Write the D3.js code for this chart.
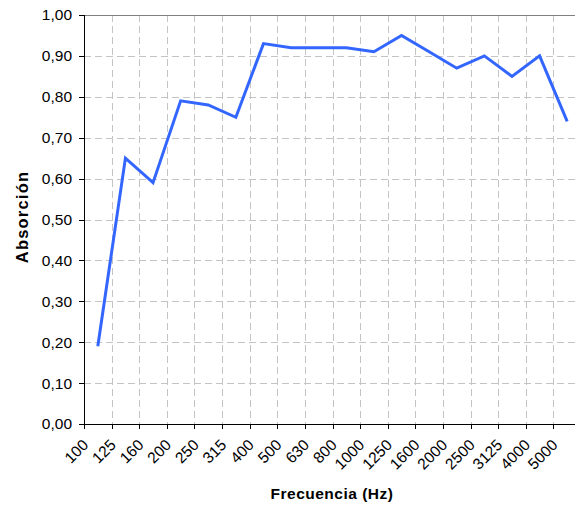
<!DOCTYPE html>
<html>
<head>
<meta charset="utf-8">
<script src="https://cdn.jsdelivr.net/npm/d3@7"></script>
<style>
  body { margin: 0; background: #fff; overflow: hidden; }
  text { font-family: "Liberation Sans", Arial, sans-serif; fill: #000; }
</style>
</head>
<body>
<div id="chart"></div>
<script>
'use strict'

// data
const frequencies = ['100', '125', '160', '200', '250', '315', '400', '500', '630', '800',
  '1000', '1250', '1600', '2000', '2500', '3125', '4000', '5000']
const absorption = [0.19, 0.65, 0.59, 0.79, 0.78, 0.75, 0.93, 0.92, 0.92, 0.92,
  0.91, 0.95, 0.91, 0.87, 0.90, 0.85, 0.90, 0.74]
const yTicks = [0, 0.1, 0.2, 0.3, 0.4, 0.5, 0.6, 0.7, 0.8, 0.9, 1.0]

////////////////////////////////////
//////////// svg setup /////////////
////////////////////////////////////

const svgWidth = 575
const svgHeight = 506
// plot runs a little past the right edge of the window, as in the original
const margin = { left: 84, right: -6, top: 15, bottom: 82 }
const width = svgWidth - margin.left - margin.right
const height = svgHeight - margin.top - margin.bottom

const svg = d3.select('#chart').append('svg')
  .attr('width', svgWidth)
  .attr('height', svgHeight)

const g = svg.append('g')
  .attr('transform', `translate(${margin.left},${margin.top})`)

const x = d3.scaleBand().domain(frequencies).range([0, width])
const y = d3.scaleLinear().domain([0, 1]).range([height, 0])

const fmt = d => d3.format('.2f')(d).replace('.', ',')

// grid lines
g.append('g').selectAll('line')
  .data(yTicks.slice(1))
  .join('line')
  .attr('x1', 0).attr('x2', width)
  .attr('y1', d => Math.round(y(d)) + 0.5).attr('y2', d => Math.round(y(d)) + 0.5)
  .attr('stroke', '#c4c4c4')
  .attr('stroke-dasharray', '7,4')

g.append('g').selectAll('line')
  .data(frequencies.slice(1))
  .join('line')
  .attr('x1', d => Math.round(x(d)) + 0.5).attr('x2', d => Math.round(x(d)) + 0.5)
  .attr('y1', 0).attr('y2', height)
  .attr('stroke', '#c4c4c4')
  .attr('stroke-dasharray', '7,4')

// top border
g.append('line')
  .attr('x1', 0).attr('x2', width)
  .attr('y1', 0.5).attr('y2', 0.5)
  .attr('stroke', '#808080')

// y axis
g.append('g').selectAll('line')
  .data(yTicks)
  .join('line')
  .attr('x1', -5).attr('x2', 0)
  .attr('y1', d => Math.round(y(d)) + 0.5).attr('y2', d => Math.round(y(d)) + 0.5)
  .attr('stroke', '#000')

g.append('g').selectAll('text')
  .data(yTicks)
  .join('text')
  .attr('x', -12)
  .attr('y', d => y(d))
  .attr('dy', '0.35em')
  .attr('text-anchor', 'end')
  .style('font-size', '15.5px')
  .text(fmt)

g.append('line')
  .attr('x1', 0.5).attr('x2', 0.5)
  .attr('y1', 0).attr('y2', height)
  .attr('stroke', '#000')

// x axis
g.append('g').selectAll('line')
  .data(frequencies)
  .join('line')
  .attr('x1', d => Math.round(x(d)) + 0.5).attr('x2', d => Math.round(x(d)) + 0.5)
  .attr('y1', height).attr('y2', height + 5)
  .attr('stroke', '#000')

g.append('line')
  .attr('x1', 0).attr('x2', width)
  .attr('y1', height + 0.5).attr('y2', height + 0.5)
  .attr('stroke', '#000')

g.append('g').selectAll('text')
  .data(frequencies)
  .join('text')
  .attr('transform', d => `translate(${x(d) + x.bandwidth() / 2 - 8.5},${height + 22}) rotate(-45)`)
  .attr('text-anchor', 'end')
  .style('font-size', '15.5px')
  .text(d => d)

// line
const line = d3.line()
  .x((d, i) => x(frequencies[i]) + x.bandwidth() / 2)
  .y(d => y(d))

g.append('path')
  .datum(absorption)
  .attr('d', line)
  .attr('fill', 'none')
  .attr('stroke', '#3366ff')
  .attr('stroke-width', 3)
  .attr('stroke-linejoin', 'miter')

// titles
svg.append('text')
  .attr('transform', `translate(28,217) rotate(-90)`)
  .attr('text-anchor', 'middle')
  .style('font-size', '16.5px')
  .style('font-weight', 'bold')
  .style('letter-spacing', '1.2px')
  .text('Absorción')

svg.append('text')
  .attr('x', 332)
  .attr('y', 499)
  .attr('text-anchor', 'middle')
  .style('font-size', '15.5px')
  .style('font-weight', 'bold')
  .style('letter-spacing', '0.5px')
  .text('Frecuencia (Hz)')
</script>
</body>
</html>
